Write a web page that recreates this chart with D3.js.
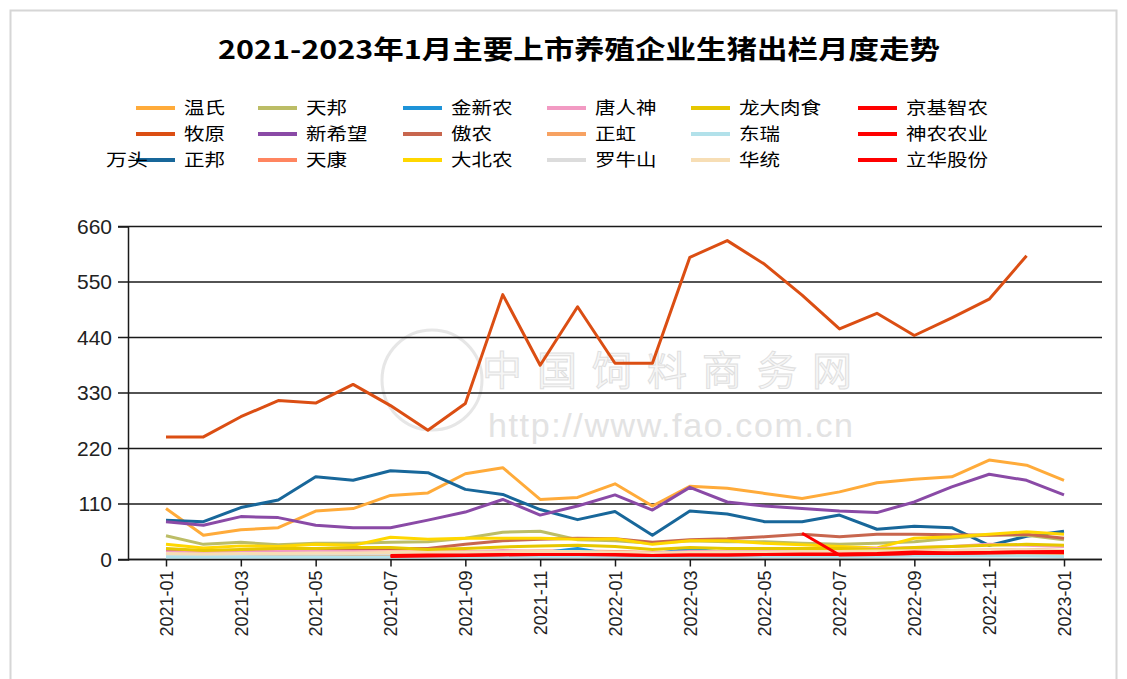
<!DOCTYPE html>
<html><head><meta charset="utf-8">
<script src="https://cdn.jsdelivr.net/npm/d3@7"></script>
<style>body{margin:0;background:#fff;}svg{display:block;}</style>
</head><body><svg id="c" width="1127" height="679"></svg>
<script>
const months = ["2021-01","2021-02","2021-03","2021-04","2021-05","2021-06","2021-07","2021-08","2021-09","2021-10","2021-11","2021-12",
"2022-01","2022-02","2022-03","2022-04","2022-05","2022-06","2022-07","2022-08","2022-09","2022-10","2022-11","2022-12","2023-01"];
const yTicks = [0,110,220,330,440,550,660];
const title = "2021-2023年1月主要上市养殖企业生猪出栏月度走势";
const unit = "万头";
const N = null;
const wenshi   = [101,48,59,63,96,101,127,132,170,182,119,123,150,106,145,141,131,121,134,152,159,164,197,187,157];
const tianbang = [47,30,34,29,32,32,34,35,42,54,56,39,37,32,37,35,35,32,30,32,35,42,49,48,39];
const jinxinnong=[12,10,10,10,10,10,10,9,9,10,13,22,9,11,21,14,11,10,10,9,12,10,10,8,8];
const tangrenshen=[15,14,15,16,16,16,14,14,15,18,15,14,14,13,16,16,17,18,20,22,24,26,30,28,26];
const longda   = [22,18,20,22,22,24,24,20,22,25,27,28,26,20,24,22,22,22,22,20,24,26,28,30,28];
const jingji   = [N,N,N,N,N,N,N,N,N,N,N,N,N,N,N,N,N,52,9,10,12,13,14,15,16];
const muyuan   = [243,243,283,315,310,347,305,256,309,525,385,501,389,389,599,632,585,524,457,488,444,479,516,602,N];
const xinxiwang= [75,68,85,83,68,63,63,78,94,119,88,106,128,98,143,114,106,101,96,93,114,144,169,157,128];
const aonong   = [17,15,18,18,20,22,22,22,30,37,40,42,41,34,39,41,45,50,45,50,50,49,48,50,42];
const zhenghong= [8,8,8,9,9,9,10,10,10,11,11,10,10,9,9,10,10,10,10,10,11,11,12,12,11];
const dongrui  = [5,5,5,5,5,5,5,5,5,5,6,6,6,5,6,6,6,6,6,6,7,7,7,7,6];
const shennong = [N,N,N,N,N,N,8,9,9,10,10,10,9,8,9,9,10,10,10,11,12,12,13,14,14];
const zhengbang= [78,75,103,118,164,157,176,172,139,129,99,79,95,48,96,90,75,75,88,60,66,63,28,46,56];
const tiankang = [14,12,13,13,14,15,15,15,16,16,17,17,16,14,15,15,15,15,16,16,17,18,19,20,18];
const dabeinong= [30,23,27,26,30,28,44,40,42,42,42,40,41,30,37,37,32,29,26,23,42,45,50,55,50];
const luoniushan=[10,10,10,11,11,12,12,12,12,13,13,13,13,11,12,13,13,13,13,13,14,14,15,15,14];
const huatong  = [12,11,12,12,13,13,14,14,15,15,16,16,15,13,14,15,15,16,16,17,17,18,19,20,18];
const lihua    = [N,N,N,N,N,N,6,7,8,9,10,10,10,8,9,9,10,11,11,12,15,13,14,15,16];

const legendRows = [
  ["温氏","天邦","金新农","唐人神","龙大肉食","京基智农"],
  ["牧原","新希望","傲农","正虹","东瑞","神农农业"],
  ["正邦","天康","大北农","罗牛山","华统","立华股份"]
];
const seriesData = {"温氏":wenshi,"天邦":tianbang,"金新农":jinxinnong,"唐人神":tangrenshen,"龙大肉食":longda,"京基智农":jingji,
"牧原":muyuan,"新希望":xinxiwang,"傲农":aonong,"正虹":zhenghong,"东瑞":dongrui,"神农农业":shennong,
"正邦":zhengbang,"天康":tiankang,"大北农":dabeinong,"罗牛山":luoniushan,"华统":huatong,"立华股份":lihua};
const colors = {"温氏":"#ffab3a","天邦":"#bcbd66","金新农":"#1e93d8","唐人神":"#f29ac3","龙大肉食":"#e6c700","京基智农":"#ff0000",
"牧原":"#db4e13","新希望":"#8a4aa6","傲农":"#c8664e","正虹":"#f7a262","东瑞":"#b2e1ea","神农农业":"#ff0000",
"正邦":"#18679a","天康":"#ff8560","大北农":"#ffd700","罗牛山":"#dcdcdc","华统":"#f7deb5","立华股份":"#ff0000"};

const svg = d3.select("#c");
const font = "'Noto Sans CJK SC','Noto Sans',sans-serif";
const numFont = "'Liberation Sans',Arial,sans-serif";

// frame
svg.append("path").attr("d","M10.5,679 V10.5 H1116.5 V679").attr("fill","none").attr("stroke","#d6d6d6").attr("stroke-width",2);

svg.append("text").attr("x",579).attr("y",59).attr("text-anchor","middle")
  .attr("font-family",font).attr("font-size",26).attr("font-weight","bold").attr("fill","#000")
  .attr("textLength",722).attr("lengthAdjust","spacingAndGlyphs").text(title);

const x = d3.scalePoint().domain(months).range([166,1064]);
const y = d3.scaleLinear().domain([0,660]).range([559.5,226.5]);

// watermark
const wm = svg.append("g").attr("opacity",0.9);
wm.append("circle").attr("cx",432).attr("cy",380).attr("r",50).attr("fill","none").attr("stroke","#e4e4e4").attr("stroke-width",3);
wm.append("text").attr("x",482).attr("y",385).attr("font-family",font).attr("font-size",40)
  .attr("fill","#f6f6f6").attr("stroke","#dcdcdc").attr("stroke-width",1).attr("textLength",370).text("中国饲料商务网");
wm.append("text").attr("x",488).attr("y",437).attr("font-family",numFont).attr("font-size",34)
  .attr("fill","#e0e0e0").attr("textLength",365).text("http://www.fao.com.cn");

// grid
svg.append("g").selectAll("line").data(yTicks).join("line")
  .attr("x1",118).attr("x2",1102).attr("y1",d=>y(d)).attr("y2",d=>y(d))
  .attr("stroke","#1a1a1a").attr("stroke-width",1.5);

// y axis
const yAxis = svg.append("g").attr("transform","translate(128,0)")
  .call(d3.axisLeft(y).tickValues(yTicks).tickSize(10).tickPadding(6));
yAxis.select(".domain").attr("stroke","#1a1a1a").attr("stroke-width",1.5);
yAxis.selectAll(".tick line").remove();
yAxis.selectAll("text").attr("font-family",numFont).attr("font-size",21).attr("fill","#222").attr("x",-16);

// x axis
const xAxis = svg.append("g").attr("transform","translate(0,559.5)")
  .call(d3.axisBottom(x).tickValues(months.filter((d,i)=>i%2===0)).tickSize(7).tickSizeOuter(0));
xAxis.select(".domain").attr("d","M128,0H1102").attr("stroke","#1a1a1a").attr("stroke-width",1.5);
xAxis.selectAll(".tick line").attr("stroke","#1a1a1a").attr("stroke-width",1.5);
xAxis.selectAll("text").attr("font-family",numFont).attr("font-size",18).attr("fill","#222")
  .attr("transform","rotate(-90)").attr("text-anchor","end").attr("x",-11).attr("y",0).attr("dy","0.35em");

// lines
const line = d3.line().defined(d=>d.v!==null).x(d=>x(d.m)).y(d=>y(d.v));
const drawOrder = [];
for (let c=0;c<6;c++) for (let r=0;r<3;r++) drawOrder.push(legendRows[r][c]);
svg.append("g").selectAll("path").data(drawOrder).join("path")
  .attr("d",name=>line(seriesData[name].map((v,i)=>({m:months[i],v}))))
  .attr("fill","none").attr("stroke",name=>colors[name]).attr("stroke-width",3).attr("stroke-linejoin","round");

// legend
const colX = [136,258,403,547,691,858];
const rowY = [108,134,160];
const lg = svg.append("g");
legendRows.forEach((row,r)=>row.forEach((name,c)=>{
  lg.append("line").attr("x1",colX[c]).attr("x2",colX[c]+39).attr("y1",rowY[r]).attr("y2",rowY[r])
    .attr("stroke",colors[name]).attr("stroke-width",4);
  lg.append("text").attr("x",colX[c]+48).attr("y",rowY[r]).attr("dy","0.36em")
    .attr("font-family",font).attr("font-size",17.5).attr("fill","#000")
    .attr("textLength",name.length*20.5).attr("lengthAdjust","spacingAndGlyphs").text(name);
}));
svg.append("text").attr("x",106).attr("y",160).attr("dy","0.36em").attr("font-family",font).attr("font-size",17.5).attr("fill","#000")
  .attr("textLength",42).attr("lengthAdjust","spacingAndGlyphs").text(unit);
</script></body></html>
